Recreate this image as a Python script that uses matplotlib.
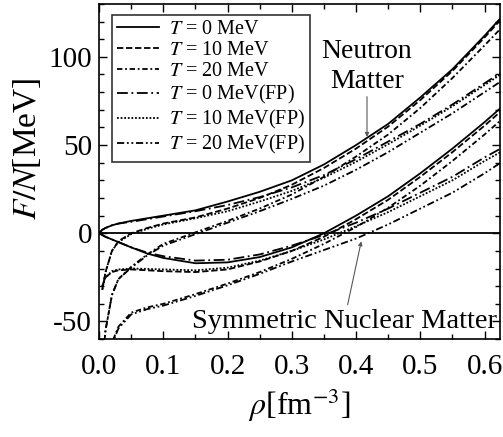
import numpy as np
import matplotlib
matplotlib.use("Agg")
import matplotlib.pyplot as plt

plt.rcParams["font.family"] = ["Liberation Serif", "DejaVu Serif"]
plt.rcParams["mathtext.fontset"] = "stix"
plt.rcParams["axes.unicode_minus"] = False

# density grid [fm^-3]; T=0 curves start at rho=0, T>0 curves at 0.005
rho_t0 = [0.0, 0.005, 0.01, 0.02, 0.03, 0.05, 0.075, 0.1, 0.15, 0.2, 0.25,
          0.3, 0.35, 0.4, 0.45, 0.5, 0.55, 0.6, 0.625]
rho_hot = rho_t0[1:]

# neutron matter F/N [MeV]
neu_t0 = [0, 2, 3, 4.5, 5.5, 7, 8.5, 10, 13, 18, 23.5, 30, 39, 50, 62, 77, 93, 112, 122]
neu_t10 = [-32, -22, -10, -4.5, 0, 3, 5.5, 9, 14, 20, 27.5, 37, 48, 60.5, 75.5, 92, 111, 121]
neu_t20 = [-75, -55, -35, -26, -19, -12, -6, 0.5, 7, 14, 22, 32, 43.5, 56, 71, 88, 106.5, 116]
neu_t0_fp = [0, 2, 3, 4.5, 5.5, 6.5, 8, 9.5, 12.5, 16, 20.5, 26, 33, 42, 52, 62, 73, 85, 91]
neu_t10_fp = [-32, -22, -10, -5, -0.5, 2.5, 5, 8.5, 12.5, 18, 24, 31.5, 40.5, 50.5, 61, 72, 84, 90]
neu_t20_fp = [-75, -55, -35, -26, -19.5, -12.5, -7, -0.5, 6, 12.5, 19.5, 27, 36, 46, 57, 68, 80, 86]

# symmetric nuclear matter F/N [MeV]
snm_t0 = [0, -1, -2, -3.5, -5, -8, -11.5, -14, -17, -16.5, -13.5, -8, 0, 10, 21, 34, 48, 63, 71]
snm_t10 = [-30, -25, -22, -21, -20.5, -21, -21.5, -22, -20.5, -16, -10, -2, 8, 19, 32, 46, 61, 69]
snm_t20 = [-110, -85, -62, -53, -45, -42, -40, -34.5, -28.5, -22, -14.5, -6, 3.5, 14.5, 27, 41, 56, 64]
snm_t0_fp = [0, -1, -2, -3.5, -5, -8, -11, -13, -15.5, -15, -12, -7, -1, 6, 14, 23, 32, 43, 48]
snm_t10_fp = [-30, -25, -21.5, -20.5, -20, -20.2, -20.5, -21, -19.5, -15.5, -10, -3.5, 4, 12, 21, 30, 41, 46]
snm_t20_fp = [-110, -86, -63, -54, -46, -43, -41, -35.5, -29.5, -23, -16, -9.5, -3, 5, 14, 23, 34, 40]

labels = [r"$T$ = 0 MeV", r"$T$ = 10 MeV", r"$T$ = 20 MeV",
          r"$T$ = 0 MeV(FP)", r"$T$ = 10 MeV(FP)", r"$T$ = 20 MeV(FP)"]
styles = ["-", (0, (3.5, 1.5)), (0, (3, 1.5, 1, 1.5)),
          (0, (6, 2, 1, 2)), (0, (1, 1)), (0, (4, 1.5, 1, 1.5, 1, 1.5))]

fig = plt.figure(figsize=(5.03, 4.37), dpi=100)
ax = fig.add_axes([0.197, 0.224, 0.797, 0.767])

neutron = [neu_t0, neu_t10, neu_t20, neu_t0_fp, neu_t10_fp, neu_t20_fp]
snm = [snm_t0, snm_t10, snm_t20, snm_t0_fp, snm_t10_fp, snm_t20_fp]
for i in range(6):
    x = rho_t0 if len(neutron[i]) == len(rho_t0) else rho_hot
    ax.plot(x, neutron[i], color="black", lw=1.3, ls=styles[i], label=labels[i])
    x = rho_t0 if len(snm[i]) == len(rho_t0) else rho_hot
    ax.plot(x, snm[i], color="black", lw=1.3, ls=styles[i])

ax.axhline(0, color="black", lw=1.3)

ax.set_xlim(0, 0.624)
ax.set_ylim(-60, 130)
ax.set_xticks(np.arange(0, 0.61, 0.1))
ax.set_xticks(np.arange(0.05, 0.62, 0.1), minor=True)
ax.set_xticklabels([f"{v:.1f}" for v in np.arange(0, 0.61, 0.1)])
ax.set_yticks([-50, 0, 50, 100])
ax.set_yticks(np.arange(-60, 131, 10), minor=True)
ax.tick_params(which="both", direction="in", top=True, right=True, labelsize=21, width=1)
ax.tick_params(axis="x", which="major", length=6, pad=11)
ax.tick_params(axis="y", which="major", length=6, pad=5)
ax.tick_params(which="minor", length=3.5)
for s in ax.spines.values():
    s.set_linewidth(1.2)

ax.set_xlabel(r"$\rho$[fm$^{-3}$]", fontsize=23, labelpad=4)
ax.set_ylabel(r"$F/N$[MeV]", fontsize=24)
ax.yaxis.set_label_coords(-0.14, 0.567)

leg = ax.legend(loc="upper left", bbox_to_anchor=(0.032, 0.967), fontsize=14.5,
                frameon=True, fancybox=False, edgecolor="black", handlelength=2.1,
                labelspacing=0.1, borderpad=0.25, handletextpad=0.5, borderaxespad=0)
leg.get_frame().set_linewidth(1.2)

ax.text(0.417, 103, "Neutron", fontsize=20, ha="center", va="center")
ax.text(0.417, 86, "Matter", fontsize=20, ha="center", va="center")
ax.annotate("", xy=(0.417, 53), xytext=(0.417, 79),
            arrowprops=dict(arrowstyle="-|>", color="0.35", lw=0.8, mutation_scale=6))
ax.text(0.145, -50, "Symmetric Nuclear Matter", fontsize=20.5, ha="left", va="center")
ax.annotate("", xy=(0.409, -3), xytext=(0.386, -42),
            arrowprops=dict(arrowstyle="-|>", color="0.35", lw=0.8, mutation_scale=6))

fig.savefig("out.png", dpi=100)
